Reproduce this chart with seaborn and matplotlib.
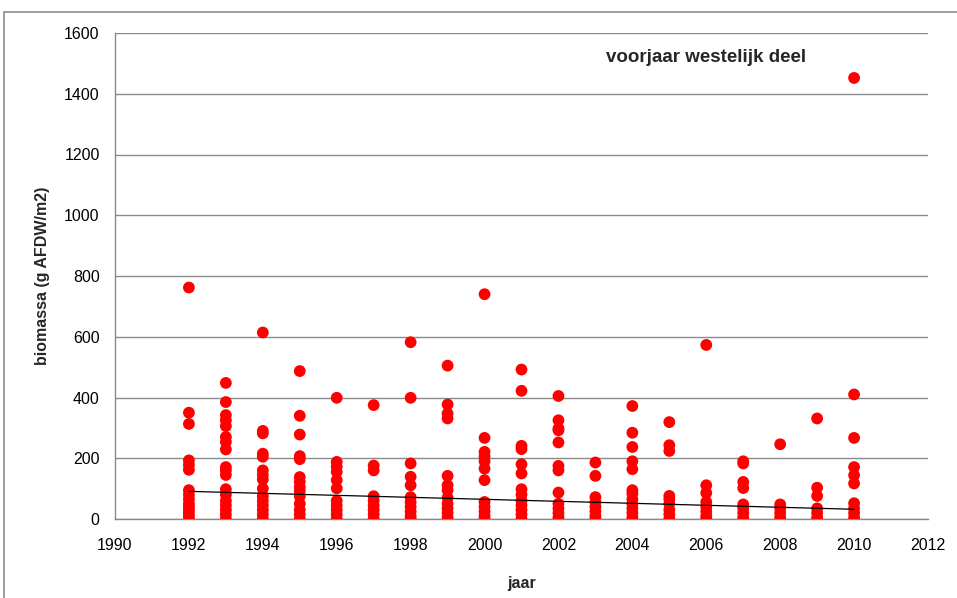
import matplotlib
matplotlib.use("Agg")
import matplotlib.pyplot as plt
import seaborn as sns
import pandas as pd
from matplotlib.patches import Rectangle

# ---- data (g AFDW/m2 per sample, per year) ----
y1992 = [762, 350, 313, 193, 178, 162, 95, 80, 65, 50, 40, 30, 20, 10, 0]
y1993 = [448, 385, 342, 325, 306, 270, 254, 229, 171, 160, 145, 98, 80, 60, 45, 30, 15, 0]
y1994 = [614, 290, 282, 215, 205, 160, 145, 130, 100, 75, 60, 45, 30, 15, 0]
y1995 = [487, 340, 278, 207, 197, 138, 122, 105, 92, 75, 50, 30, 15, 0]
y1996 = [399, 188, 172, 155, 128, 101, 60, 45, 30, 15, 0]
y1997 = [375, 176, 160, 75, 60, 45, 30, 15, 0]
y1998 = [582, 399, 183, 139, 111, 72, 55, 40, 25, 10, 0]
y1999 = [505, 377, 347, 331, 142, 111, 95, 70, 50, 35, 20, 5]
y2000 = [740, 267, 221, 205, 190, 166, 128, 56, 40, 25, 10, 0]
y2001 = [492, 422, 241, 230, 180, 150, 98, 80, 60, 45, 30, 15, 0]
y2002 = [405, 325, 298, 292, 252, 175, 160, 87, 50, 35, 20, 5]
y2003 = [186, 142, 72, 55, 40, 25, 10, 0]
y2004 = [372, 284, 237, 190, 164, 95, 84, 65, 50, 35, 20, 5]
y2005 = [319, 243, 224, 76, 65, 50, 30, 15, 0]
y2006 = [573, 111, 86, 56, 40, 25, 10, 0]
y2007 = [190, 183, 122, 102, 48, 35, 20, 5]
y2008 = [246, 48, 35, 20, 5]
y2009 = [331, 103, 76, 35, 20, 5]
y2010 = [1452, 410, 267, 171, 144, 117, 52, 35, 20, 5]

years = list(range(1992, 2011))
samples = [y1992, y1993, y1994, y1995, y1996, y1997, y1998, y1999, y2000, y2001,
           y2002, y2003, y2004, y2005, y2006, y2007, y2008, y2009, y2010]

# linear trend line
trend_years = [1992, 2010]
trend_values = [91, 32]

x_ticks = list(range(1990, 2013, 2))
y_ticks = list(range(0, 1601, 200))

title_text = "voorjaar westelijk deel"
x_label = "jaar"
y_label = "biomassa (g AFDW/m2)"

rows = [(yr, v) for yr, vals in zip(years, samples) for v in vals]
df = pd.DataFrame(rows, columns=["jaar", "biomassa"])

sns.set_theme(style="white")
plt.rcParams["font.family"] = ["Liberation Sans", "DejaVu Sans"]

fig = plt.figure(figsize=(9.57, 5.98), dpi=100)
ax = fig.add_axes([115 / 957, 1 - 519 / 598, (928 - 115) / 957, (519 - 33) / 598])

# outer chart frame (left and top visible)
fig.patches.append(Rectangle((4 / 957, -0.1), 2, 1.1 - 12 / 598, transform=fig.transFigure,
                             fill=False, edgecolor="#8c8c8c", linewidth=1.2, zorder=0))

ax.set_axisbelow(True)
ax.yaxis.grid(True, color="#8a8a8a", linewidth=1.0)
ax.xaxis.grid(False)

sns.scatterplot(data=df, x="jaar", y="biomassa", ax=ax, color="#ff0000",
                s=72, edgecolor="none", linewidth=0, zorder=3, legend=False)
sns.lineplot(x=trend_years, y=trend_values, ax=ax, color="black", linewidth=0.9, zorder=4)

ax.set_xlim(1990, 2012)
ax.set_ylim(0, 1600)
ax.set_xticks(x_ticks)
ax.set_yticks(y_ticks)
ax.tick_params(axis="both", labelsize=11.5, colors="black", length=5, width=1,
               direction="out")
ax.tick_params(axis="x", color="#8a8a8a", pad=9)
ax.tick_params(axis="y", color="#8a8a8a", pad=6)

for side in ["top", "right"]:
    ax.spines[side].set_visible(False)
for side in ["left", "bottom"]:
    ax.spines[side].set_color("#8a8a8a")
    ax.spines[side].set_linewidth(1.0)

ax.set_xlabel(x_label, fontsize=11.5, fontweight="bold", labelpad=16)
ax.set_ylabel(y_label, fontsize=11.5, fontweight="bold", labelpad=10)

fig.text(706 / 957, 1 - 57 / 598, title_text, fontsize=13.5, fontweight="bold",
         ha="center", va="center")

fig.savefig("out.png", dpi=100)
